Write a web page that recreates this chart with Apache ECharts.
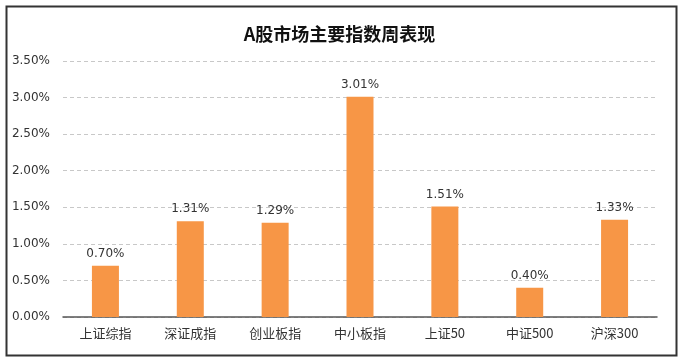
<!DOCTYPE html>
<html>
<head>
<meta charset="utf-8">
<script src="https://cdn.jsdelivr.net/npm/echarts@6/dist/echarts.min.js"></script>
<style>
html,body{margin:0;padding:0;background:#fff;}
#c{width:679px;height:364px;}
</style>
</head>
<body>
<div id="c"></div>
<script>
const categories = ['上证综指','深证成指','创业板指','中小板指','上证50','中证500','沪深300'];
const values = [0.70, 1.31, 1.29, 3.01, 1.51, 0.40, 1.33];
const yTicks = [0, 0.5, 1.0, 1.5, 2.0, 2.5, 3.0, 3.5];

const chart = echarts.init(document.getElementById('c'), null, {renderer:'canvas'});
chart.setOption({
  animation: false,
  backgroundColor: '#fff',
  title: {
    text: 'A股市场主要指数周表现',
    left: 'center',
    top: 20,
    textStyle: {fontFamily: '"Noto Sans CJK SC"', fontSize: 18, fontWeight: 'bold', color: '#111'}
  },
  graphic: [{
    type: 'rect', left: 4, top: 4, z: 100,
    shape: {width: 670, height: 349},
    style: {fill: 'none', stroke: '#333', lineWidth: 2}
  }],
  grid: {left: 63, right: 22, top: 61, bottom: 47},
  xAxis: {
    type: 'category',
    data: categories,
    axisLine: {lineStyle: {color: '#555', width: 1.5}},
    axisTick: {show: false},
    axisLabel: {color: '#333', fontSize: 13, margin: 10, fontFamily: '"Noto Sans CJK SC"'}
  },
  yAxis: {
    type: 'value',
    min: 0, max: 3.5, interval: 0.5,
    axisLine: {show: false},
    axisTick: {show: false},
    splitLine: {lineStyle: {color: '#c8c8c8', type: [4, 3]}},
    axisLabel: {color: '#333', fontSize: 12, margin: 13, fontFamily: '"DejaVu Sans"',
      formatter: v => v.toFixed(2) + '%'}
  },
  series: [{
    type: 'bar',
    data: values,
    barWidth: 27,
    itemStyle: {color: '#F79646'},
    label: {show: true, position: 'top', distance: 6, color: '#333', fontSize: 12,
      fontFamily: '"DejaVu Sans"',
      formatter: p => p.value.toFixed(2) + '%'}
  }]
});
</script>
</body>
</html>
